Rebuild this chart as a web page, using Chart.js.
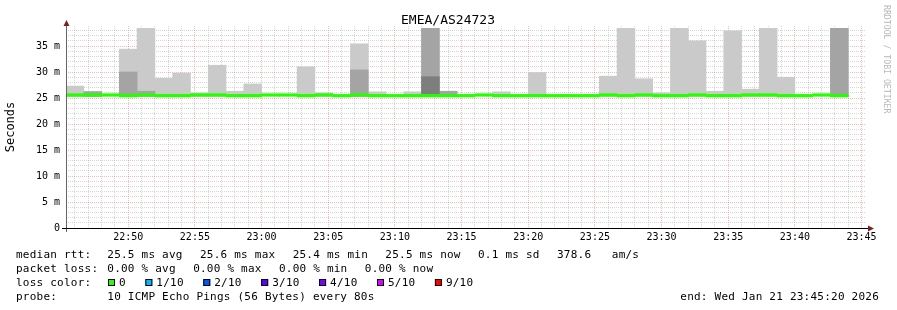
<!DOCTYPE html>
<html>
<head>
<meta charset="utf-8">
<script src="https://cdn.jsdelivr.net/npm/chart.js@4.4.1/dist/chart.umd.min.js"></script>
<style>
  html, body { margin: 0; padding: 0; background: #fff; }
  canvas { display: block; }
</style>
</head>
<body>
<canvas id="rtt" width="897" height="310"></canvas>
<script>
const chartTitle = "EMEA/AS24723";
const startTime = "22:45:20";   // left edge of the graph
const stepSeconds = 80;          // one smoke column per 80 s
const spanMinutes = 60;

// per 80 s bin, null = nothing drawn there
const medianRtt = [
  25.58, 25.58, 25.58, 25.45, 25.58, 25.45, 25.45, 25.58, 25.58, 25.45,
  25.45, 25.58, 25.58, 25.45, 25.58, 25.45, 25.58, 25.45, 25.45, 25.45,
  25.45, 25.45, 25.45, 25.58, 25.45, 25.45, 25.45, 25.45, 25.45, 25.45,
  25.58, 25.45, 25.58, 25.45, 25.45, 25.58, 25.45, 25.45, 25.58, 25.58,
  25.45, 25.45, 25.58, 25.45, null
];
const smokeMin = [
  25.2, 25.3, null, 25.3, 25.3, 25.3, 25.3, 25.3, 25.3, 25.3,
  25.3, null, null, 25.3, 25.3, null, 25.3, 25.3, null, 25.3,
  25.3, 25.3, null, null, 25.3, null, 25.3, null, null, null,
  25.3, 25.3, 25.3, 25.3, 25.3, 25.3, 25.3, 25.3, 25.3, 25.3,
  25.3, null, null, 25.3, null
];
const smokeMax = [
  27.3, 26.3, null, 34.4, 38.4, 28.8, 29.8, 26.0, 31.3, 26.3,
  27.7, null, null, 31.0, 26.0, null, 35.4, 26.2, null, 26.2,
  38.4, 26.3, null, null, 26.2, null, 29.9, null, null, null,
  29.2, 38.4, 28.7, 26.0, 38.4, 36.0, 26.3, 37.9, 26.7, 38.4,
  29.0, null, null, 38.4, null
];
// second highest ping (darker smoke)
const smokeP9 = [
  null, 26.2, null, 30.0, 26.3, null, null, null, null, null,
  null, null, null, null, null, null, 30.4, null, null, null,
  38.4, 26.3, null, null, null, null, null, null, null, null,
  null, null, null, null, null, null, null, null, null, null,
  null, null, null, 38.4, null
];
// third highest ping (darkest smoke)
const smokeP8 = [
  null, null, null, null, null, null, null, null, null, null,
  null, null, null, null, null, null, null, null, null, null,
  29.1, null, null, null, null, null, null, null, null, null,
  null, null, null, null, null, null, null, null, null, null,
  null, null, null, null, null
];

const timeTicks = ["22:50", "22:55", "23:00", "23:05", "23:10", "23:15",
                   "23:20", "23:25", "23:30", "23:35", "23:40", "23:45"];
const yTickLabels = ["0", "5 m", "10 m", "15 m", "20 m", "25 m", "30 m", "35 m"];

const rttStats = ["25.5 ms avg", "25.6 ms max", "25.4 ms min", "25.5 ms now", "0.1 ms sd", "378.6   am/s"];
const lossStats = ["0.00 % avg", "0.00 % max", "0.00 % min", "0.00 % now"];
const lossLabels = ["0", "1/10", "2/10", "3/10", "4/10", "5/10", "9/10"];
const lossColors = ["#26ff00", "#00b8ff", "#0059ff", "#5e00ff", "#7e00ff", "#dd00ff", "#ff0000"];
const probeText = "10 ICMP Echo Pings (56 Bytes) every 80s";
const endText = "end: Wed Jan 21 23:45:20 2026";

const MONO = "'DejaVu Sans Mono', monospace";
const minorGrid = "rgba(140,140,140,0.36)";
const majorGrid = "rgba(255,0,0,0.28)";

function toSec(t) {
  const p = t.split(":").map(Number);
  return p[0] * 3600 + p[1] * 60 + (p[2] || 0);
}
const t0 = toSec(startTime);
const tickMin = timeTicks.map(t => (toSec(t) - t0) / 60);

function binX(i) { return (i + 0.5) * stepSeconds / 60; }

// every dataset carries all bins so 'flex' bars are exactly one bin wide
function band(lo, hi) {
  return hi.map((h, i) => ({
    x: binX(i),
    y: (h != null && lo[i] != null) ? [lo[i], h] : null
  }));
}

const medianBand = medianRtt.map((m, i) => ({
  x: binX(i),
  y: m != null ? [m - 0.25, m + 0.25] : null
}));

// same stack + stacked index axis -> bars overlap instead of sitting side by side
const barCommon = {
  borderWidth: 0, barThickness: "flex", barPercentage: 1, categoryPercentage: 1, stack: "smoke"
};

const decor = {
  id: "decor",
  afterDraw(chart) {
    const ctx = chart.ctx;
    const a = chart.chartArea;
    ctx.save();

    // axes with arrows
    ctx.strokeStyle = "#666";
    ctx.lineWidth = 1;
    ctx.beginPath();
    ctx.moveTo(a.left + 0.5, a.top - 4);
    ctx.lineTo(a.left + 0.5, a.bottom + 4);
    ctx.stroke();
    ctx.strokeStyle = "#000";
    ctx.beginPath();
    ctx.moveTo(a.left - 4, a.bottom + 0.5);
    ctx.lineTo(a.right + 2, a.bottom + 0.5);
    ctx.stroke();
    ctx.fillStyle = "#7f1f1f";
    ctx.beginPath();
    ctx.moveTo(a.left + 0.5, a.top - 6);
    ctx.lineTo(a.left - 2.5, a.top);
    ctx.lineTo(a.left + 3.5, a.top);
    ctx.closePath();
    ctx.fill();
    ctx.beginPath();
    ctx.moveTo(a.right + 8, a.bottom + 0.5);
    ctx.lineTo(a.right + 2, a.bottom - 2.5);
    ctx.lineTo(a.right + 2, a.bottom + 3.5);
    ctx.closePath();
    ctx.fill();

    // title
    ctx.fillStyle = "#000";
    ctx.font = "13px " + MONO;
    ctx.textAlign = "center";
    ctx.textBaseline = "alphabetic";
    ctx.fillText(chartTitle, 448, 24);

    // watermark
    ctx.save();
    ctx.translate(884, 5);
    ctx.rotate(Math.PI / 2);
    ctx.font = "8.2px " + MONO;
    ctx.fillStyle = "#b8b8b8";
    ctx.textAlign = "left";
    ctx.fillText("RRDTOOL / TOBI OETIKER", 0, 0);
    ctx.restore();

    // legend
    ctx.font = "11px " + MONO;
    ctx.letterSpacing = "0.23px";
    ctx.textAlign = "left";
    ctx.fillStyle = "#000";
    const col = 107.3, gap = 17.3;
    const rows = [[258, "median rtt:", rttStats], [272, "packet loss:", lossStats]];
    rows.forEach(([y, label, items]) => {
      ctx.fillText(label, 16, y);
      let x = col;
      items.forEach(s => {
        ctx.fillText(s, x, y);
        x += ctx.measureText(s).width + gap;
      });
    });

    ctx.fillText("loss color:", 16, 286);
    let x = 108;
    lossLabels.forEach((s, i) => {
      ctx.fillStyle = lossColors[i];
      ctx.fillRect(x, 279, 7, 7);
      ctx.strokeStyle = "#000";
      ctx.strokeRect(x + 0.5, 279.5, 6, 6);
      ctx.fillStyle = "#000";
      ctx.fillText(s, x + 11, 286);
      x += 11 + ctx.measureText(s).width + 19.5;
    });

    ctx.fillText("probe:", 16, 300);
    ctx.fillText(probeText, col, 300);
    ctx.textAlign = "right";
    ctx.fillText(endText, 879, 300);
    ctx.restore();
  }
};

new Chart(document.getElementById("rtt"), {
  type: "bar",
  data: {
    datasets: [
      { ...barCommon, label: "median", data: medianBand, backgroundColor: "#26ff00", order: 1 },
      { ...barCommon, label: "p8", data: band(smokeMin, smokeP8), backgroundColor: "#7e7e7e", order: 2 },
      { ...barCommon, label: "p9", data: band(smokeMin, smokeP9), backgroundColor: "#a4a4a4", order: 3 },
      { ...barCommon, label: "max", data: band(smokeMin, smokeMax), backgroundColor: "#cacaca", order: 4 }
    ]
  },
  options: {
    responsive: false,
    animation: false,
    devicePixelRatio: 1,
    layout: { padding: { left: 0, right: 31, top: 26, bottom: 62 } },
    plugins: { legend: { display: false }, tooltip: { enabled: false } },
    scales: {
      x: {
        type: "linear",
        min: 0,
        max: spanMinutes,
        offset: false,
        stacked: true,
        z: 1,
        afterFit: s => { s.height = 20; },
        afterBuildTicks: s => {
          const first = (60 - (t0 % 60)) / 60;
          const ticks = [];
          for (let v = first; v <= spanMinutes + 1e-9; v += 1) ticks.push({ value: v });
          s.ticks = ticks;
        },
        ticks: {
          autoSkip: false,
          maxRotation: 0,
          padding: 3,
          color: "#000",
          font: { family: MONO, size: 10 },
          callback: v => {
            const k = tickMin.findIndex(m => Math.abs(m - v) < 1e-6);
            return k >= 0 ? timeTicks[k] : "";
          }
        },
        grid: {
          offset: false,
          drawTicks: false,
          lineWidth: 1,
          color: c => (c.tick && tickMin.some(m => Math.abs(m - c.tick.value) < 1e-6)) ? majorGrid : minorGrid
        },
        border: { display: false, dash: [1, 1] }
      },
      y: {
        type: "linear",
        min: 0,
        max: 38.85,
        stacked: false,
        z: 1,
        afterFit: s => { s.width = 66; },
        afterBuildTicks: s => {
          const ticks = [];
          for (let v = 0; v <= 38; v++) ticks.push({ value: v });
          s.ticks = ticks;
        },
        ticks: {
          autoSkip: false,
          padding: 6,
          color: "#000",
          font: { family: MONO, size: 10 },
          callback: v => (v % 5 === 0 ? yTickLabels[v / 5] : "")
        },
        grid: {
          drawTicks: false,
          lineWidth: 1,
          color: c => (c.tick && c.tick.value % 5 === 0) ? majorGrid : minorGrid
        },
        border: { display: false, dash: [1, 1] },
        title: {
          display: true,
          text: "Seconds",
          color: "#000",
          font: { family: MONO, size: 12 },
          padding: { top: 4, bottom: 0 }
        }
      }
    }
  },
  plugins: [decor]
});
</script>
</body>
</html>
